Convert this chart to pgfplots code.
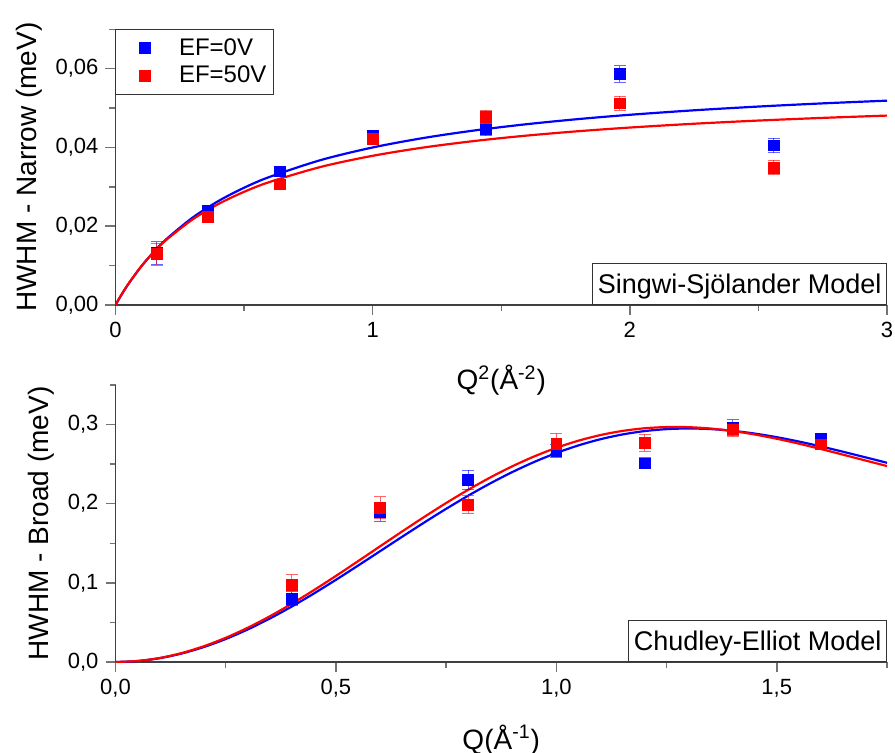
\documentclass[border=0pt]{standalone}
\usepackage{fontspec}
\setmainfont{Liberation Sans}
\usepackage{pgfplots}
\pgfplotsset{compat=1.18}
\definecolor{cblue}{RGB}{0,0,255}
\definecolor{cred}{RGB}{255,0,0}
\pgfplotsset{
  myaxis/.style={
    scale only axis,
    axis x line=bottom, axis y line=left,
    axis line style={-, black!75, line width=0.65pt},
    tick align=outside,
    major tick length=5pt, minor tick length=3pt,
    every tick/.style={black!55, line width=0.75pt},
    /pgf/number format/assume math mode=true,
    /pgf/number format/use comma,
    /pgf/number format/fixed,
    /pgf/number format/fixed zerofill,
    scaled ticks=false,
    ticklabel style={font=\fontsize{11}{13}\selectfont},
    label style={font=\fontsize{14}{16}\selectfont},
    xlabel style={yshift=-7pt},
    clip=true,
  },
  fitline/.style={no marks, smooth, line width=1.1pt},
  pts/.style={only marks, mark=square*, mark size=2.7pt,
    error bars/y dir=both, error bars/y explicit,
    error bars/error bar style={line width=0.5pt, opacity=0.6},
    error bars/error mark options={rotate=90, mark size=3pt, line width=0.5pt, opacity=0.6}},
}
\begin{document}
\begin{tikzpicture}
\useasboundingbox (0pt,0pt) rectangle (447.5pt,-376.5pt);
% ---------------- top ----------------
\begin{axis}[myaxis,
  at={(57.75pt,-152.5pt)}, anchor=south west,
  width=385.75pt, height=137.85pt,
  xmin=0, xmax=3, ymin=0, ymax=0.07,
  xtick={0,1,2,3}, minor xtick={0.5,1.5,2.5},
  ytick={0,0.02,0.04,0.06}, minor ytick={0.01,0.03,0.05,0.07},
  xticklabel style={/pgf/number format/precision=0},
  yticklabel style={/pgf/number format/precision=2},
  xlabel={Q\textsuperscript{2}(Å\textsuperscript{-2})},
  ylabel={HWHM - Narrow (meV)},
  legend style={at={(0,1)}, anchor=north west, draw=black!80, line width=0.5pt,
    font=\fontsize{12}{14}\selectfont, inner xsep=2pt, inner ysep=2.8pt, row sep=1pt,
    nodes={inner xsep=1.5pt, inner ysep=1.5pt}},
  legend cell align=left,
  legend image code/.code={%
    \path[draw=none, fill=none] (0pt,-2pt) (28pt,2pt);
    \draw[#1] plot coordinates {(12.5pt,0pt)};},
]
\addplot[fitline, cblue, forget plot] coordinates {
(0,0) (0.01,0.001142) (0.02,0.002242) (0.05,0.005313) (0.1,0.009773) (0.15,0.013572)
(0.2,0.016845) (0.3,0.022200) (0.4,0.026395) (0.5,0.029770) (0.6,0.032544)
(0.8,0.036835) (1.0,0.040000) (1.2,0.042430) (1.4,0.044355) (1.6,0.045917)
(1.8,0.047211) (2.0,0.048299) (2.25,0.049438) (2.5,0.050390) (2.75,0.051196) (3.0,0.051887)};
\addplot[fitline, cred, forget plot] coordinates {
(0,0) (0.01,0.001165) (0.02,0.002282) (0.05,0.005375) (0.1,0.009801) (0.15,0.013511)
(0.2,0.016664) (0.3,0.021738) (0.4,0.025641) (0.5,0.028737) (0.6,0.031253)
(0.8,0.035093) (1.0,0.037886) (1.2,0.040009) (1.4,0.041677) (1.6,0.043022)
(1.8,0.044130) (2.0,0.045059) (2.25,0.046027) (2.5,0.046832) (2.75,0.047512) (3.0,0.048094)};
\addplot[color=cblue, pts] coordinates {
(0.16,0.0132) +- (0,0.0029)
(0.36,0.0239) +- (0,0.0012)
(0.64,0.0339) +- (0,0.0012)
(1.00,0.0429) +- (0,0.0012)
(1.44,0.0446) +- (0,0.0016)
(1.96,0.0586) +- (0,0.0021)
(2.56,0.0405) +- (0,0.0019)};
\addlegendentry{EF=0V}
\addplot[color=cred, pts] coordinates {
(0.16,0.0129) +- (0,0.0028)
(0.36,0.0223) +- (0,0.0013)
(0.64,0.0306) +- (0,0.0013)
(1.00,0.0421) +- (0,0.0013)
(1.44,0.0478) +- (0,0.0017)
(1.96,0.0512) +- (0,0.0018)
(2.56,0.0349) +- (0,0.0018)};
\addlegendentry{EF=50V}
\node[anchor=south east, draw=black!80, line width=0.5pt, fill=white,
  font=\fontsize{13.5}{15}\selectfont, inner xsep=2.5pt, inner ysep=1pt,
  text height=14.2pt, text depth=4.3pt] at (rel axis cs:1,0) {Singwi-Sjölander Model};
\end{axis}
% ---------------- bottom ----------------
\begin{axis}[myaxis,
  at={(57.75pt,-331pt)}, anchor=south west,
  width=385.75pt, height=138.5pt,
  xmin=0, xmax=1.75, ymin=0, ymax=0.35,
  xtick={0,0.5,1,1.5}, minor xtick={0.25,0.75,1.25,1.75},
  ytick={0,0.1,0.2,0.3}, minor ytick={0.05,0.15,0.25,0.35},
  xticklabel style={/pgf/number format/precision=1},
  yticklabel style={/pgf/number format/precision=1},
  xlabel={Q(Å\textsuperscript{-1})},
  ylabel={HWHM - Broad (meV)},
]
\addplot[fitline, cblue] coordinates {
(0,0) (0.05,0.001205) (0.1,0.004797) (0.15,0.010712) (0.2,0.018845) (0.25,0.029053)
(0.3,0.041153) (0.35,0.054936) (0.4,0.070155) (0.45,0.086555) (0.5,0.103852)
(0.55,0.121756) (0.6,0.139970) (0.65,0.158198) (0.7,0.176151) (0.75,0.193552)
(0.8,0.210141) (0.85,0.225684) (0.9,0.239969) (0.95,0.252820) (1.0,0.264091)
(1.05,0.273672) (1.1,0.281494) (1.15,0.287522) (1.2,0.291759) (1.25,0.294246)
(1.3,0.295057) (1.35,0.294298) (1.4,0.292102) (1.45,0.288628) (1.5,0.284055)
(1.55,0.278576) (1.6,0.272396) (1.65,0.265723) (1.7,0.258770) (1.75,0.251739)};
\addplot[fitline, cred] coordinates {
(0,0) (0.05,0.001271) (0.1,0.005059) (0.15,0.011293) (0.2,0.019858) (0.25,0.030593)
(0.3,0.043301) (0.35,0.057747) (0.4,0.073669) (0.45,0.090778) (0.5,0.108769)
(0.55,0.127327) (0.6,0.146129) (0.65,0.164859) (0.7,0.183207) (0.75,0.200879)
(0.8,0.217604) (0.85,0.233137) (0.9,0.247264) (0.95,0.259808) (1.0,0.270628)
(1.05,0.279626) (1.1,0.286745) (1.15,0.291969) (1.2,0.295323) (1.25,0.296870)
(1.3,0.296712) (1.35,0.294981) (1.4,0.291840) (1.45,0.287473) (1.5,0.282086)
(1.55,0.275896) (1.6,0.269128) (1.65,0.262010) (1.7,0.254765) (1.75,0.247608)};
\addplot[color=cblue, pts] coordinates {
(0.4,0.080) +- (0,0.009)
(0.6,0.190) +- (0,0.012)
(0.8,0.230) +- (0,0.012)
(1.0,0.267) +- (0,0.008)
(1.2,0.251) +- (0,0.007)
(1.4,0.296) +- (0,0.010)
(1.6,0.282) +- (0,0.007)};
\addplot[color=cred, pts] coordinates {
(0.4,0.097) +- (0,0.013)
(0.6,0.195) +- (0,0.014)
(0.8,0.199) +- (0,0.011)
(1.0,0.276) +- (0,0.013)
(1.2,0.277) +- (0,0.011)
(1.4,0.294) +- (0,0.009)
(1.6,0.275) +- (0,0.007)};
\node[anchor=south east, draw=black!80, line width=0.5pt, fill=white,
  font=\fontsize{13.5}{15}\selectfont, inner xsep=2.5pt, inner ysep=1pt,
  text height=14.2pt, text depth=4.3pt] at (rel axis cs:1,0) {Chudley-Elliot Model};
\end{axis}
\end{tikzpicture}
\end{document}
